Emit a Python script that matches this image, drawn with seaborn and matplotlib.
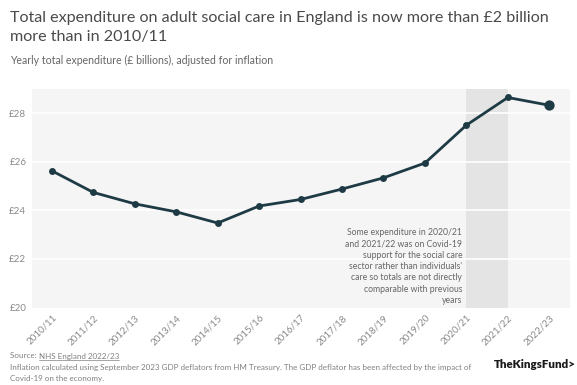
import numpy as np
import pandas as pd
import matplotlib as mpl
mpl.use("Agg")
from matplotlib import pyplot as plt
import seaborn as sns

# data
years = ["2010/11", "2011/12", "2012/13", "2013/14", "2014/15", "2015/16", "2016/17",
         "2017/18", "2018/19", "2019/20", "2020/21", "2021/22", "2022/23"]
spend = [25.63, 24.74, 24.27, 23.94, 23.48, 24.18, 24.45,
         24.88, 25.34, 25.95, 27.51, 28.65, 28.33]
yticks = [20, 22, 24, 26, 28]
covid_span = ["2020/21", "2021/22"]

LINE = "#1e3b45"
GREY = "#8a8a8a"
W, H = 577, 385

sns.set_theme(style="white")
plt.rcParams["font.family"] = ["Lato", "DejaVu Sans"]

df = pd.DataFrame({"year": years, "spend": spend})
df["x"] = np.arange(len(df))

fig = plt.figure(figsize=(W/100, H/100), dpi=100)
ax = fig.add_axes([32/W, 1-307.5/H, 538/W, (307.5-89)/H])
ax.set_facecolor("#f5f5f5")

# covid shading
x0, x1 = years.index(covid_span[0]), years.index(covid_span[1])
ax.axvspan(x0, x1, color="#e4e4e4", zorder=0.5, lw=0)

for t in yticks[1:]:
    ax.axhline(t, color="white", lw=1.2, zorder=0.6)

sns.lineplot(data=df, x="x", y="spend", color=LINE, lw=2, marker="o",
             markersize=5, markeredgewidth=0, ax=ax, zorder=3)
last = df.iloc[[-1]]
sns.scatterplot(data=last, x="x", y="spend", color=LINE, s=55, linewidth=0,
                ax=ax, zorder=4)

ax.set_xlim(-0.48, len(years) - 0.5)
ax.set_ylim(20, 29)
ax.set_yticks(yticks)
ax.set_yticklabels([f"£{t}" for t in yticks], fontsize=7, color=GREY)
ax.set_xticks(df["x"])
ax.set_xticklabels(years, rotation=45, ha="right", rotation_mode="anchor",
                   fontsize=7, color=GREY)
ax.tick_params(axis="both", length=0, pad=4)
ax.tick_params(axis="y", pad=4)
for s in ax.spines.values():
    s.set_visible(False)
ax.set_xlabel("")
ax.set_ylabel("")

ax.text(x0 - 0.1, 20.1,
        "Some expenditure in 2020/21\nand 2021/22 was on Covid-19\nsupport for the social care\n"
        "sector rather than individuals'\ncare so totals are not directly\ncomparable with previous\nyears",
        ha="right", va="bottom", fontsize=6.2, color="#666666", linespacing=1.33)

# titles
fig.text(10/W, 1-18/H, "Total expenditure on adult social care in England is now more than £2 billion",
         fontsize=11.6, color="#4a4a4a", va="center", ha="left")
fig.text(10/W, 1-37.5/H, "more than in 2010/11",
         fontsize=11.6, color="#4a4a4a", va="center", ha="left")
fig.text(10/W, 1-60/H, "Yearly total expenditure (£ billions), adjusted for inflation",
         fontsize=7.6, color="#666666", va="center")

# footer
FOOT = "#808080"
FS = 5.75
src = fig.text(10/W, 1-356/H, "Source: ", fontsize=FS, color=FOOT, va="center")
fig.canvas.draw()
bb = src.get_window_extent()
link = fig.text(bb.x1 / W, 1-356/H, "NHS England 2022/23", fontsize=FS, color=FOOT, va="center")
fig.canvas.draw()
lb = link.get_window_extent()
fig.add_artist(mpl.lines.Line2D([lb.x0/W, lb.x1/W], [lb.y0/H - 0.6/H, lb.y0/H - 0.6/H],
                                color=FOOT, lw=0.5))
fig.text(10/W, 1-367.5/H,
         "Inflation calculated using September 2023 GDP deflators from HM Treasury. The GDP deflator has been affected by the impact of",
         fontsize=FS, color=FOOT, va="center")
fig.text(10/W, 1-378/H, "Covid-19 on the economy.", fontsize=FS, color=FOOT, va="center")
fig.text(576/W, 1-364/H, "TheKingsFund>", fontsize=8.3, fontweight="heavy",
         color="#1a1a1a", ha="right", va="center")

fig.savefig("out.png", dpi=100, facecolor="white")
